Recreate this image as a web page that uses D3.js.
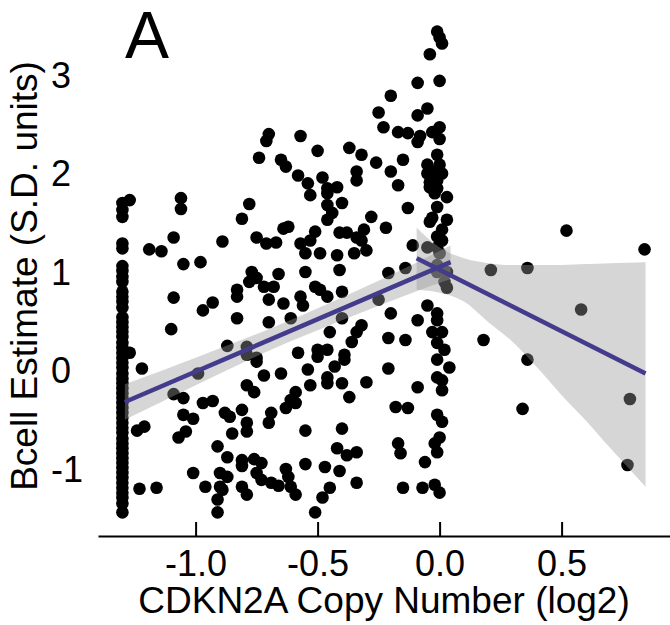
<!DOCTYPE html>
<head>
	<meta charset="utf-8">
	<title>Bcell vs CDKN2A</title>
	<style>
	body { margin: 0; background: #fff; }
	text { font-family: "Liberation Sans", Arial, Helvetica, sans-serif; fill: #000; }
	.tick text { font-size: 36px; }
	.title { font-size: 37px; }
	.panel { font-size: 66px; }
	</style>
</head>
<body>
<script src="https://d3js.org/d3.v7.min.js"></script>
<script>

var width = 670, height = 625

// samples with the deepest deletion, all at the same copy number
var floorCN = -1.30
var floorBcell = [1.70, 1.63, 1.56, 1.29, 1.24, 1.06, 1.01, 0.95, 0.90, 0.80, 0.75, 0.70, 0.64,
	0.54, 0.49, 0.44, 0.39, 0.34, 0.28, 0.23, 0.18, 0.13, 0.08, 0.03, -0.03, -0.08, -0.13,
	-0.18, -0.23, -0.28, -0.33, -0.38, -0.43, -0.48, -0.53, -0.58, -0.63, -0.69, -0.74,
	-0.79, -0.84, -0.89, -0.94, -0.99, -1.04, -1.09, -1.14, -1.19, -1.24, -1.29, -1.35, -1.44]

// remaining samples: [copy number, bcell estimate]
var samples = [
	[-1.27, 1.73], [-1.27, 0.18],
	[-1.06, 1.75], [-1.06, 1.64], [-0.78, 1.69], [-0.81, 1.54], [-0.64, 1.44], [-1.09, 1.35],
	[-1.19, 1.23], [-1.14, 1.21], [-1.05, 1.08], [-0.98, 1.10], [-0.89, 1.31], [-0.75, 1.35],
	[-0.71, 1.29], [-0.67, 1.30], [-0.77, 1.00], [-0.75, 0.94], [-0.78, 0.90], [-0.66, 0.98],
	[-0.72, 0.85], [-0.68, 0.85], [-0.83, 0.82], [-0.83, 0.75], [-0.70, 0.72], [-0.64, 0.68],
	[-1.09, 0.74], [-0.93, 0.69], [-0.97, 0.61], [-0.83, 0.53], [-0.70, 0.49], [-1.10, 0.42],
	[-0.87, 0.25], [-0.79, 0.24], [-0.79, 0.16], [-0.75, 0.13],
	[-0.01, 3.44], [0.00, 3.38], [0.01, 3.32], [-0.04, 3.21], [-0.09, 2.92], [0.00, 2.94],
	[-0.20, 2.79], [-0.25, 2.62], [-0.05, 2.66], [-0.09, 2.59], [-0.23, 2.47], [-0.17, 2.42],
	[-0.13, 2.41], [-0.08, 2.38], [-0.09, 2.32], [-0.03, 2.42], [0.00, 2.47], [0.00, 2.35],
	[-0.57, 2.38], [-0.50, 2.23], [-0.37, 2.26], [-0.32, 2.19], [-0.26, 2.11], [-0.15, 2.14],
	[-0.20, 2.02], [-0.63, 2.07], [-0.65, 2.14], [-0.58, 1.98], [-0.54, 1.90], [-0.48, 1.96],
	[-0.46, 1.85], [-0.42, 1.86], [-0.34, 2.02], [-0.34, 1.93], [-0.17, 1.88], [-0.70, 2.40],
	[-0.71, 2.33], [-0.74, 2.16],
	[-0.53, 1.78], [-0.46, 1.80], [-0.46, 1.68], [-0.40, 1.70], [-0.44, 1.60], [-0.46, 1.53],
	[-0.28, 1.56], [-0.22, 1.45], [-0.62, 1.46], [-0.51, 1.41], [-0.53, 1.32], [-0.41, 1.40],
	[-0.38, 1.40], [-0.34, 1.35], [-0.31, 1.43], [-0.32, 1.32], [-0.30, 1.22], [-0.35, 1.19],
	[-0.57, 1.29], [-0.55, 1.19], [-0.49, 1.19], [-0.42, 1.17], [-0.55, 1.00], [-0.41, 1.02],
	[-0.21, 0.99], [-0.51, 0.85], [-0.49, 0.82], [-0.46, 0.75], [-0.40, 0.80], [-0.57, 0.75],
	[-0.56, 0.66], [-0.25, 0.72], [-0.61, 0.53], [-0.40, 0.53], [-0.20, 0.58], [-0.45, 0.39],
	[-0.32, 0.46], [-0.34, 0.39], [-0.36, 0.29], [-0.21, 0.33], [-0.58, 0.18], [-0.50, 0.21],
	[-0.46, 0.21], [-0.50, 0.14], [-0.39, 0.16],
	[-0.01, 2.19], [-0.05, 2.09], [0.00, 2.09], [-0.05, 2.00], [-0.02, 2.02], [0.01, 2.00],
	[-0.04, 1.91], [-0.01, 1.93], [-0.04, 1.86], [-0.01, 1.85], [0.03, 1.76], [-0.02, 1.80],
	[-0.13, 1.65], [-0.01, 1.66], [-0.03, 1.55], [-0.04, 1.51], [0.03, 1.53], [0.01, 1.43],
	[-0.01, 1.36], [0.01, 1.32], [-0.11, 1.27], [-0.05, 1.25], [-0.01, 1.25], [0.00, 1.19],
	[-0.01, 1.07], [-0.01, 1.00], [0.03, 1.00], [0.02, 0.90], [0.03, 0.84], [-0.14, 1.04],
	[-0.05, 0.66], [-0.01, 0.58], [-0.01, 0.51], [-0.09, 0.51], [-0.03, 0.39], [0.01, 0.39],
	[-0.01, 0.28], [0.02, 0.21], [-0.01, 0.11], [0.04, 0.03], [-0.01, -0.07], [0.01, -0.10],
	[0.01, -0.20], [-0.14, 0.31], [-0.09, -0.17], [-0.18, -0.37], [-0.13, -0.38], [-0.01, -0.45],
	[0.01, -0.52], [0.00, -0.68], [-0.02, -0.74], [-0.01, -0.83], [-0.17, -0.74], [-0.16, -0.84],
	[-0.06, -0.93], [-0.15, -1.19], [-0.07, -1.19], [-0.02, -1.16], [0.00, -1.24],
	[-0.54, 0.01], [-0.43, 0.04], [-0.39, 0.11], [-0.46, -0.07], [-0.46, -0.13], [-0.40, -0.13],
	[-0.53, -0.15], [-0.65, -0.03], [-0.59, -0.22], [-0.61, -0.30], [-0.59, -0.33], [-0.63, -0.38],
	[-0.37, -0.27], [-0.30, -0.12], [-0.21, 0.02], [-0.55, -0.61], [-0.40, -0.59], [-0.42, -0.79],
	[-0.38, -0.86], [-0.34, -0.83], [-0.55, -0.95], [-0.63, -1.00], [-0.62, -1.08], [-0.61, -1.18],
	[-0.59, -1.26], [-0.47, -0.98], [-0.41, -1.02], [-0.34, -1.14], [-0.45, -1.19], [-0.48, -1.29],
	[-0.51, -1.44],
	[-1.22, 0.02], [-0.99, -0.03], [-1.09, -0.24], [-1.05, -0.28], [-0.97, -0.33], [-0.93, -0.31],
	[-1.05, -0.45], [-1.01, -0.49], [-0.88, -0.43], [-0.86, -0.47], [-0.81, -0.40], [-0.79, -0.53],
	[-0.79, -0.62], [-0.85, -0.64], [-1.24, -0.61], [-1.21, -0.57], [-1.07, -0.68], [-1.04, -0.62],
	[-0.91, -0.77], [-0.87, -0.88], [-0.81, -0.91], [-0.81, -0.97], [-0.76, -0.90], [-0.73, -0.94],
	[-0.75, -1.04], [-0.73, -1.11], [-0.69, -1.14], [-0.66, -1.17], [-1.01, -1.04], [-0.90, -1.04],
	[-0.87, -1.08], [-0.90, -1.18], [-0.89, -1.21], [-0.96, -1.18], [-0.81, -1.18], [-0.79, -1.26],
	[-0.91, -1.31], [-1.23, -1.20], [-1.16, -1.19], [-0.91, -1.44], [-0.75, 0.09], [-0.79, -0.15],
	[-0.76, -0.22], [-0.72, -0.05], [-0.69, -0.43], [-0.70, -0.53],
	[0.52, 1.42], [0.84, 1.23], [0.21, 1.02], [0.36, 1.04], [0.58, 0.62], [0.18, 0.31],
	[0.36, 0.11], [0.34, -0.39], [0.78, -0.29], [0.77, -0.96]
]

// linear fit for deleted samples, with its confidence band
var lossFitX = [-1.29, 0.045]
var lossFitY = [-0.32, 1.10]
var lossBandX = [-1.29, -1.0, -0.7, -0.4, -0.1, 0.045]
var lossBandHi = [-0.14, 0.13, 0.42, 0.74, 1.09, 1.27]
var lossBandLo = [-0.50, -0.15, 0.20, 0.51, 0.80, 0.93]

// linear fit for the neutral / gained samples
var gainFitX = [-0.094, 0.844]
var gainFitY = [1.14, -0.03]
var gainBandX = [-0.094, 0, 0.1, 0.2, 0.3, 0.4, 0.5, 0.6, 0.7, 0.844]
var gainBandHi = [1.45, 1.25, 1.14, 1.09, 1.07, 1.07, 1.07, 1.08, 1.09, 1.10]
var gainBandLo = [0.82, 0.79, 0.70, 0.49, 0.29, 0.03, -0.25, -0.51, -0.79, -1.18]

var xTicks = [-1.0, -0.5, 0.0, 0.5]
var yTicks = [-1, 0, 1, 2, 3]

var svg = d3.select("body")
	.append("svg")
	.attr("width", width)
	.attr("height", height);

var x = d3.scaleLinear().domain([-1.4, 0.95]).range([98, 671.4]);
var y = d3.scaleLinear().domain([-1.5, 3.5]).range([518.25, 25.75]);

var points = floorBcell.map(function(v) { return [floorCN, v]; }).concat(samples);

svg.selectAll(".dot")
	.data(points)
	.enter().append("circle")
	.attr("class", "dot")
	.attr("cx", function(d) { return x(d[0]); })
	.attr("cy", function(d) { return y(d[1]); })
	.attr("r", 6.3)
	.attr("fill", "#000");

function band(xs, lo, hi) {
	return xs.map(function(v, i) { return { x: v, lo: lo[i], hi: hi[i] }; });
}

var area = d3.area()
	.x(function(d) { return x(d.x); })
	.y0(function(d) { return y(d.lo); })
	.y1(function(d) { return y(d.hi); })
	.curve(d3.curveMonotoneX);

[band(lossBandX, lossBandLo, lossBandHi), band(gainBandX, gainBandLo, gainBandHi)].forEach(function(b) {
	svg.append("path")
		.attr("d", area(b))
		.attr("fill", "#999999")
		.attr("fill-opacity", 0.4);
});

var line = d3.line()
	.x(function(d) { return x(d[0]); })
	.y(function(d) { return y(d[1]); });

[[lossFitX, lossFitY], [gainFitX, gainFitY]].forEach(function(f) {
	svg.append("path")
		.attr("d", line(f[0].map(function(v, i) { return [v, f[1][i]]; })))
		.attr("fill", "none")
		.attr("stroke", "#433b8b")
		.attr("stroke-width", 4.5);
});

// x axis: ticks point up into the panel
var xAxis = svg.append("g")
	.attr("transform", "translate(0,536)")
	.call(d3.axisBottom(x)
		.tickValues(xTicks)
		.tickFormat(function(d) { return d.toFixed(1); })
		.tickSizeInner(-14)
		.tickSizeOuter(0));

xAxis.select(".domain").attr("stroke", "#000").attr("stroke-width", 2);
xAxis.selectAll(".tick line").attr("stroke", "#000").attr("stroke-width", 2);
xAxis.selectAll(".tick text").attr("y", 14).attr("font-size", null).attr("font-family", null);

svg.selectAll(".ylab")
	.data(yTicks)
	.enter().append("text")
	.attr("class", "ylab tick")
	.attr("x", 51)
	.attr("y", function(d) { return y(d); })
	.attr("dy", "0.36em")
	.style("font-size", "36px")
	.text(function(d) { return d; });

svg.append("text")
	.attr("class", "title")
	.attr("x", 384)
	.attr("y", 613)
	.attr("text-anchor", "middle")
	.text("CDKN2A Copy Number (log2)");

svg.append("text")
	.attr("class", "title")
	.attr("transform", "translate(37,276) rotate(-90)")
	.attr("text-anchor", "middle")
	.text("Bcell Estimate (S.D. units)");

svg.append("text")
	.attr("class", "panel")
	.attr("x", 125)
	.attr("y", 58)
	.text("A");

</script>
